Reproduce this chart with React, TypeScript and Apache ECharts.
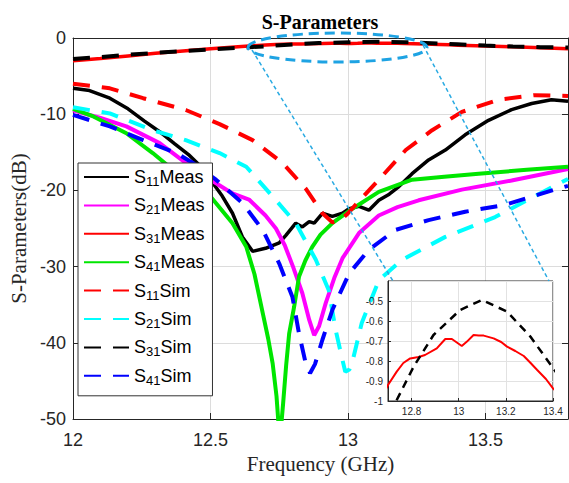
import React, { useEffect, useRef } from 'react';
import * as echarts from 'echarts';

// ---------- data (frequency in GHz, level in dB) ----------
const s11MeasF = [12, 12.06, 12.134, 12.2, 12.26, 12.315, 12.37, 12.42, 12.46, 12.5, 12.54, 12.58, 12.616, 12.653, 12.7, 12.75, 12.774, 12.81, 12.834, 12.859, 12.877, 12.907, 12.943, 12.98, 13.004, 13.04, 13.076, 13.112, 13.15, 13.185, 13.233, 13.293, 13.354, 13.426, 13.511, 13.595, 13.668, 13.74, 13.8];
const s11MeasDb = [-6.6, -6.9, -7.9, -9.3, -10.9, -12.3, -13.9, -15.3, -16.7, -18.6, -20.6, -23.0, -26.1, -28.0, -27.6, -26.9, -25.9, -24.3, -24.8, -24.1, -24.3, -23.0, -23.4, -23.0, -22.4, -22.1, -22.6, -21.3, -20.5, -19.5, -17.8, -16.0, -14.7, -12.7, -10.8, -9.4, -8.6, -8.1, -8.3];

const s21MeasF = [12, 12.1, 12.194, 12.315, 12.41, 12.5, 12.58, 12.64, 12.7, 12.738, 12.77, 12.8, 12.834, 12.859, 12.877, 12.895, 12.919, 12.95, 12.98, 13.04, 13.112, 13.18, 13.257, 13.414, 13.595, 13.8];
const s21MeasDb = [-9.5, -10.5, -11.6, -13.8, -16.4, -18.6, -20.4, -21.2, -23.3, -25.0, -27.2, -30.0, -33.5, -37.0, -39.0, -37.8, -34.8, -31.5, -28.9, -25.6, -23.3, -22.2, -21.3, -19.9, -18.7, -17.2];

const s31MeasF = [12, 12.1, 12.2, 12.3, 12.4, 12.5, 12.6, 12.7, 12.737, 12.765, 12.794, 12.83, 12.857, 12.907, 12.943, 12.971, 12.995, 13.013, 13.035, 13.063, 13.085, 13.106, 13.148, 13.18, 13.205, 13.24, 13.276, 13.305, 13.333, 13.37, 13.4, 13.5, 13.6, 13.7, 13.8];
const s31MeasDb = [-3.0, -2.7, -2.35, -2.0, -1.7, -1.4, -1.15, -0.92, -0.853, -0.81, -0.787, -0.78, -0.77, -0.737, -0.69, -0.69, -0.71, -0.725, -0.703, -0.67, -0.672, -0.673, -0.687, -0.705, -0.728, -0.75, -0.775, -0.81, -0.845, -0.89, -0.937, -1.05, -1.15, -1.28, -1.4];

const s41MeasF = [12, 12.074, 12.194, 12.29, 12.35, 12.42, 12.5, 12.58, 12.63, 12.66, 12.69, 12.71, 12.726, 12.74, 12.752, 12.764, 12.775, 12.786, 12.804, 12.822, 12.845, 12.87, 12.9, 12.943, 13.016, 13.112, 13.233, 13.35, 13.475, 13.65, 13.8];
const s41MeasDb = [-9.3, -10.3, -12.5, -15.1, -16.9, -18.7, -20.8, -24.3, -27.4, -31.0, -36.1, -39.5, -42.7, -47.0, -53.0, -48.0, -43.0, -38.8, -35.3, -31.3, -29.2, -27.4, -25.8, -24.3, -22.4, -20.2, -18.6, -18.2, -17.8, -17.3, -16.9];

const s11SimF = [12, 12.134, 12.255, 12.41, 12.533, 12.653, 12.762, 12.847, 12.907, 12.943, 12.97, 13.0, 13.05, 13.112, 13.21, 13.306, 13.414, 13.547, 13.68, 13.8];
const s11SimDb = [-6.0, -6.6, -7.9, -9.45, -11.3, -13.4, -16.4, -19.8, -23.0, -24.2, -24.0, -23.0, -21.0, -18.6, -14.7, -12.1, -9.7, -8.1, -7.5, -7.6];

const s21SimF = [12, 12.134, 12.29, 12.41, 12.533, 12.63, 12.726, 12.81, 12.883, 12.93, 12.955, 12.975, 12.99, 13.005, 13.016, 13.05, 13.112, 13.197, 13.354, 13.535, 13.65, 13.8];
const s21SimDb = [-9.1, -9.9, -12.1, -13.4, -15.1, -16.9, -20.8, -24.3, -29.1, -33.1, -38.3, -41.5, -43.8, -43.5, -42.5, -37.4, -31.8, -29.1, -26.1, -23.5, -21.3, -18.5];

const s31SimF = [12, 12.1, 12.2, 12.3, 12.4, 12.5, 12.6, 12.7, 12.737, 12.808, 12.893, 13.006, 13.099, 13.205, 13.304, 13.397, 13.5, 13.6, 13.7, 13.8];
const s31SimDb = [-2.75, -2.5, -2.2, -1.95, -1.7, -1.5, -1.3, -1.09, -0.995, -0.83, -0.67, -0.545, -0.495, -0.553, -0.678, -0.83, -1.0, -1.12, -1.2, -1.25];

const s41SimF = [12, 12.134, 12.255, 12.376, 12.436, 12.52, 12.617, 12.69, 12.75, 12.798, 12.822, 12.845, 12.862, 12.88, 12.907, 12.943, 13.004, 13.076, 13.172, 13.293, 13.426, 13.571, 13.752, 13.8];
const s41SimDb = [-10.1, -11.6, -13.4, -15.1, -16.4, -18.6, -21.7, -25.2, -29.6, -34.0, -38.8, -42.5, -44.0, -42.8, -39.6, -35.7, -30.9, -27.8, -25.2, -23.9, -22.8, -21.9, -19.9, -19.4];

const legendNames = ['S11Meas', 'S21Meas', 'S31Meas', 'S41Meas', 'S11Sim', 'S21Sim', 'S31Sim', 'S41Sim'];

// axis ranges
const mainX = { min: 12, max: 13.8, interval: 0.5 };
const mainY = { min: -50, max: 0, interval: 10 };
const insetX = { min: 12.7, max: 13.4 };
const insetY = { min: -1, max: -0.4, interval: 0.1 };

const zip = (f: number[], d: number[]) => f.map((x, i) => [x, d[i]]);

const SANS = 'Liberation Sans, Arial, sans-serif';
const SERIF = 'Liberation Serif, Times New Roman, serif';
const AX = '#262626';
const GRIDC = '#dcdcdc';

export default function App() {
  const ref = useRef<HTMLDivElement>(null);
  useEffect(() => {
    if (!ref.current) return;
    const chart = echarts.init(ref.current, undefined, { renderer: 'svg' });
    const dash = [17, 12];
    const mk = (name: string, f: number[], d: number[], color: string, width: number, dashed: boolean) => ({
      name,
      type: 'line',
      xAxisIndex: 0,
      yAxisIndex: 0,
      data: zip(f, d),
      symbol: 'none',
      showSymbol: false,
      clip: true,
      z: 2,
      itemStyle: { color },
      lineStyle: { color, width, type: dashed ? dash : 'solid', cap: 'butt' },
    });
    const option: any = {
      animation: false,
      backgroundColor: '#fff',
      title: {
        text: 'S-Parameters',
        left: 320,
        top: 12,
        padding: 0,
        textAlign: 'center',
        textStyle: { fontFamily: SERIF, fontWeight: 'bold', fontSize: 20, color: '#000' },
      },
      grid: [
        { left: 73, top: 38, right: 1, bottom: 64, show: false },
        { left: 388, top: 281, width: 165, height: 120, show: true, backgroundColor: '#fff', borderColor: AX, borderWidth: 1, z: 5 },
      ],
      legend: {
        data: legendNames,
        orient: 'vertical',
        left: 78,
        top: 163,
        padding: [5, 8, 9, 5],
        itemWidth: 45,
        itemHeight: 14,
        itemGap: 8.4,
        backgroundColor: '#fff',
        borderColor: '#333',
        borderWidth: 1,
        selectedMode: false,
        itemStyle: { opacity: 0 },
        formatter: (n: string) => `{s|S}{sub|${n.slice(1, 3)}}{s|${n.slice(3)}}`,
        textStyle: {
          rich: {
            s: { fontFamily: SANS, fontSize: 18, color: '#000', lineHeight: 22, verticalAlign: 'middle' },
            sub: { fontFamily: SANS, fontSize: 13, color: '#000', lineHeight: 6, verticalAlign: 'bottom' },
          },
        },
      },
      xAxis: [
        {
          type: 'value', gridIndex: 0, position: 'bottom', ...mainX,
          name: 'Frequency (GHz)', nameLocation: 'middle', nameGap: 34,
          nameTextStyle: { fontFamily: SERIF, fontSize: 21, color: AX },
          axisLine: { show: true, onZero: false, lineStyle: { color: AX, width: 1 } },
          axisTick: { show: true, inside: true, length: 6, lineStyle: { color: AX } },
          axisLabel: { fontFamily: SANS, fontSize: 18, color: AX, margin: 12, showMaxLabel: false },
          splitLine: { show: true, lineStyle: { color: GRIDC, width: 1 } },
        },
        {
          type: 'value', gridIndex: 0, position: 'top', ...mainX,
          axisLine: { show: true, onZero: false, lineStyle: { color: AX, width: 1 } },
          axisTick: { show: true, inside: true, length: 6, lineStyle: { color: AX } },
          axisLabel: { show: false },
          splitLine: { show: false },
        },
        {
          type: 'value', gridIndex: 1, position: 'bottom', ...insetX, splitNumber: 4, z: 6,
          axisLine: { show: true, onZero: false, lineStyle: { color: AX, width: 1 } },
          axisTick: { show: true, inside: true, length: 3, lineStyle: { color: AX } },
          axisLabel: { fontFamily: SANS, fontSize: 10, color: AX, margin: 5, showMinLabel: false },
          splitLine: { show: true, lineStyle: { color: '#e2e2e2', width: 1 } },
        },
      ],
      yAxis: [
        {
          type: 'value', gridIndex: 0, position: 'left', ...mainY,
          name: 'S-Parameters(dB)', nameLocation: 'middle', nameGap: 44,
          nameTextStyle: { fontFamily: SERIF, fontSize: 21, color: AX },
          axisLine: { show: true, onZero: false, lineStyle: { color: AX, width: 1 } },
          axisTick: { show: true, inside: true, length: 6, lineStyle: { color: AX } },
          axisLabel: { fontFamily: SANS, fontSize: 18, color: AX, margin: 7 },
          splitLine: { show: true, lineStyle: { color: GRIDC, width: 1 } },
        },
        {
          type: 'value', gridIndex: 0, position: 'right', ...mainY,
          axisLine: { show: true, onZero: false, lineStyle: { color: AX, width: 1 } },
          axisTick: { show: true, inside: true, length: 6, lineStyle: { color: AX } },
          axisLabel: { show: false },
          splitLine: { show: false },
        },
        {
          type: 'value', gridIndex: 1, position: 'left', ...insetY, z: 6,
          axisLine: { show: true, onZero: false, lineStyle: { color: AX, width: 1 } },
          axisTick: { show: true, inside: true, length: 3, lineStyle: { color: AX } },
          axisLabel: { fontFamily: SANS, fontSize: 10, color: AX, margin: 5, showMaxLabel: false },
          splitLine: { show: true, lineStyle: { color: '#e2e2e2', width: 1 } },
        },
      ],
      series: [
        mk('S11Meas', s11MeasF, s11MeasDb, '#000000', 3.5, false),
        mk('S21Meas', s21MeasF, s21MeasDb, '#ff00ff', 4, false),
        mk('S31Meas', s31MeasF, s31MeasDb, '#ff0000', 3.5, false),
        mk('S41Meas', s41MeasF, s41MeasDb, '#00e600', 4, false),
        mk('S11Sim', s11SimF, s11SimDb, '#ff0000', 4, true),
        mk('S21Sim', s21SimF, s21SimDb, '#00ffff', 4, true),
        mk('S31Sim', s31SimF, s31SimDb, '#000000', 4, true),
        mk('S41Sim', s41SimF, s41SimDb, '#0000ff', 4, true),
        {
          name: 'S31Meas (zoom)', type: 'line', xAxisIndex: 2, yAxisIndex: 2, z: 7,
          data: zip(s31MeasF, s31MeasDb), symbol: 'none', showSymbol: false, clip: true,
          lineStyle: { color: '#ff0000', width: 2 }, itemStyle: { color: '#ff0000' },
        },
        {
          name: 'S31Sim (zoom)', type: 'line', xAxisIndex: 2, yAxisIndex: 2, z: 7,
          data: zip(s31SimF, s31SimDb), symbol: 'none', showSymbol: false, clip: true,
          lineStyle: { color: '#000000', width: 2.5, type: [8, 6] }, itemStyle: { color: '#000' },
        },
      ],
      graphic: [
        {
          type: 'ellipse', silent: true, z: 20,
          shape: { cx: 337.5, cy: 47.5, rx: 89.5, ry: 14.5 },
          style: { fill: 'rgba(0,0,0,0)', stroke: '#1ea3e3', lineWidth: 3, lineDash: [10, 6] },
        },
        {
          type: 'line', silent: true, z: 20,
          shape: { x1: 252, y1: 50, x2: 393, y2: 281 },
          style: { stroke: '#29aae2', lineWidth: 1.5, lineDash: [4, 3] },
        },
        {
          type: 'line', silent: true, z: 20,
          shape: { x1: 423, y1: 45, x2: 549, y2: 281 },
          style: { stroke: '#29aae2', lineWidth: 1.5, lineDash: [4, 3] },
        },
      ],
    };
    chart.setOption(option);
    return () => chart.dispose();
  }, []);
  return <div ref={ref} style={{ position: 'absolute', left: 0, top: 0, width: 569, height: 483 }} />;
}
